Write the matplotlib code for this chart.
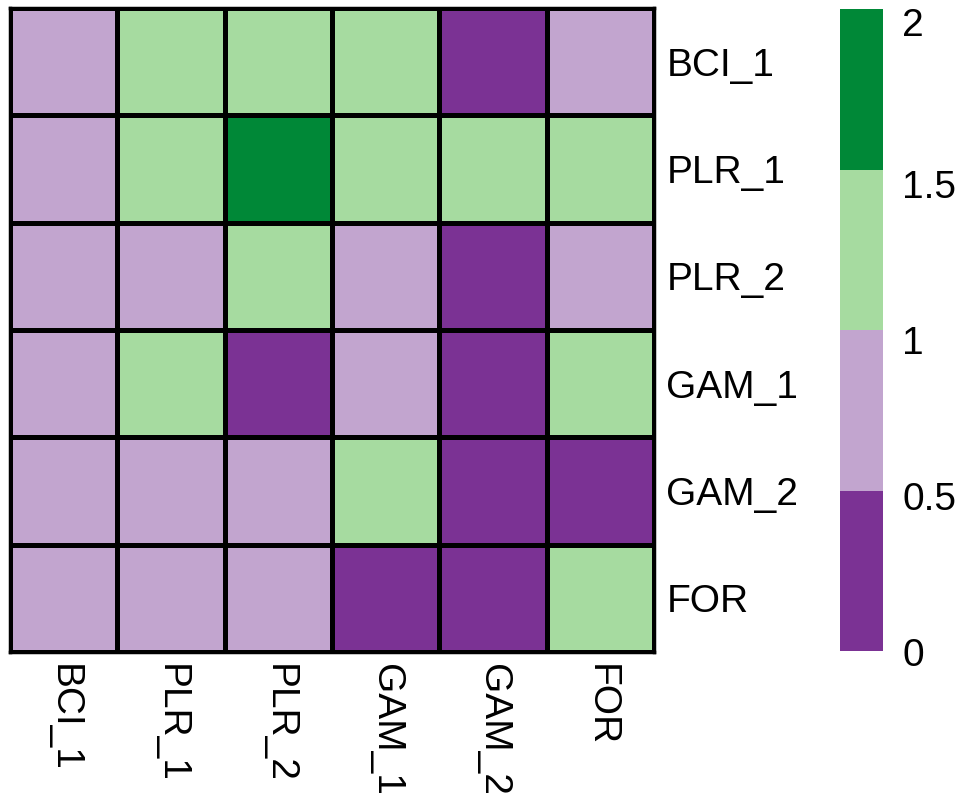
import numpy as np
import matplotlib
matplotlib.use("Agg")
import matplotlib.pyplot as plt
import matplotlib.transforms as mtransforms
from matplotlib.colors import ListedColormap, BoundaryNorm

labels = ["BCI_1", "PLR_1", "PLR_2", "GAM_1", "GAM_2", "FOR"]
# rows top-to-bottom, columns left-to-right
values = np.array([
    [0.75, 1.25, 1.25, 1.25, 0.25, 0.75],
    [0.75, 1.25, 1.75, 1.25, 1.25, 1.25],
    [0.75, 0.75, 1.25, 0.75, 0.25, 0.75],
    [0.75, 1.25, 0.25, 0.75, 0.25, 1.25],
    [0.75, 0.75, 0.75, 1.25, 0.25, 0.25],
    [0.75, 0.75, 0.75, 0.25, 0.25, 1.25],
])
bounds = [0, 0.5, 1, 1.5, 2]
bound_labels = ["0", "0.5", "1", "1.5", "2"]
colors = ["#7b3294", "#c2a5cf", "#a6dba0", "#008837"]

plt.rcParams['font.family'] = ['Liberation Sans', 'DejaVu Sans']
fig = plt.figure(figsize=(9.64, 8.09), dpi=100)
W, H = 964, 809
ax = fig.add_axes([10/W, 1 - 652/H, 644/W, 644/H])
cmap = ListedColormap(colors)
norm = BoundaryNorm(bounds, cmap.N)
n = len(labels)
ax.pcolormesh(np.arange(n+1), np.arange(n+1), values[::-1], cmap=cmap, norm=norm,
              edgecolors="black", linewidth=2.5)
ax.set_xlim(0, n); ax.set_ylim(0, n)
ax.set_xticks(np.arange(n) + 0.5)
ax.set_xticklabels(labels, rotation=-90, fontsize=28)
ax.set_yticks(np.arange(n) + 0.5)
ax.set_yticklabels(labels[::-1], fontsize=28)
ax.yaxis.tick_right()
ax.tick_params(length=0, pad=9)
for s in ax.spines.values():
    s.set_linewidth(2.5)

cax = fig.add_axes([840/W, 1 - 651/H, 43/W, 642/H])
cb = fig.colorbar(plt.cm.ScalarMappable(norm=norm, cmap=cmap), cax=cax,
                  boundaries=bounds, ticks=bounds)
cb.outline.set_visible(False)
cb.set_ticklabels(bound_labels)
cax.tick_params(length=0, labelsize=28, pad=14)
shifts = [1, 6, 10, 14, 13]
for lab, dy in zip(cax.get_yticklabels(), shifts):
    lab.set_transform(lab.get_transform() + mtransforms.ScaledTranslation(0, -dy/100, fig.dpi_scale_trans))

fig.savefig("out.png", dpi=100)
